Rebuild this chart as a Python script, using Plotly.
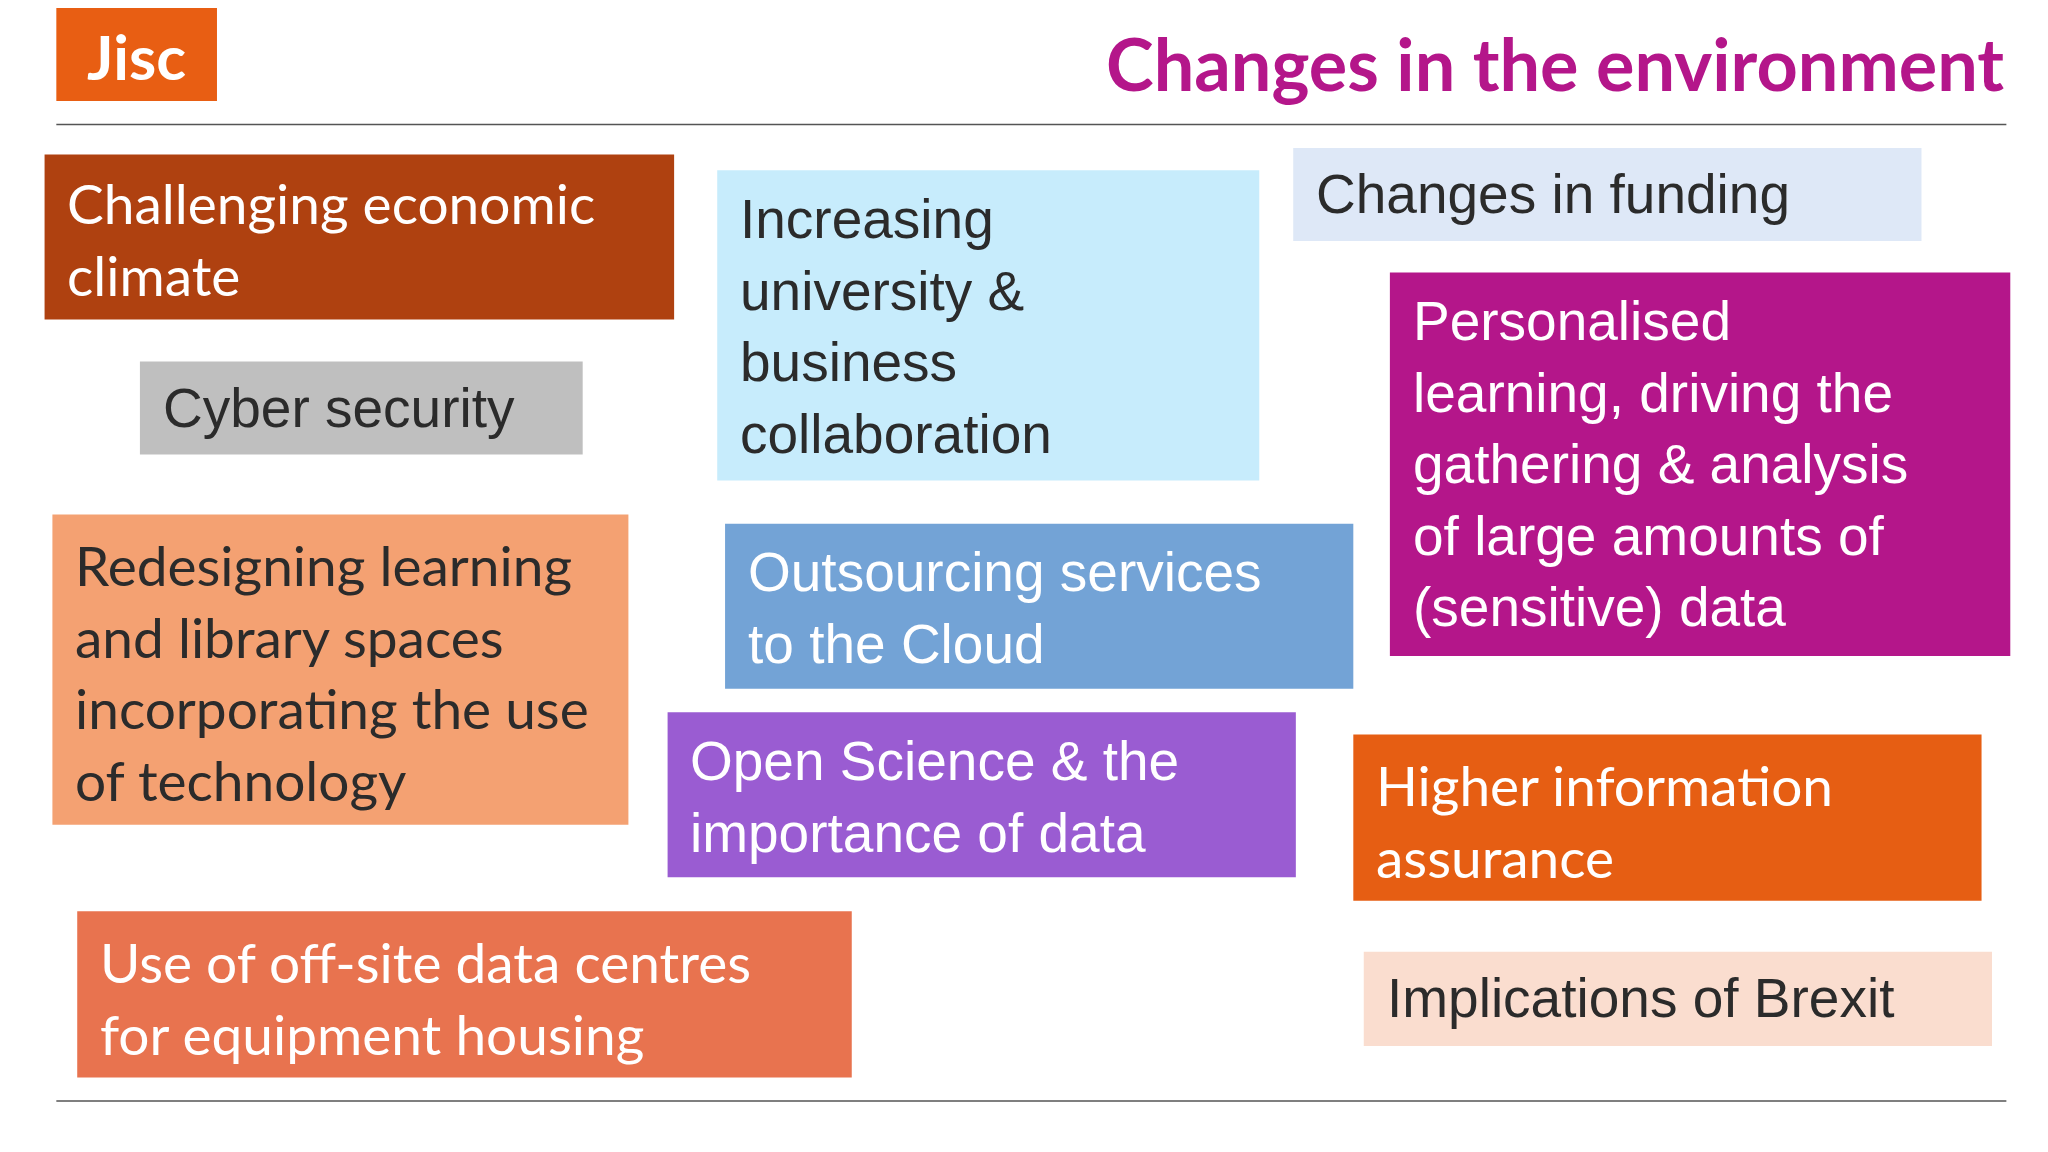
import plotly.graph_objects as go

# slide drawn in a 1568 x 880 coordinate space (reference pixels)
labels = [
    "Challenging economic<br>climate",
    "Cyber security",
    "Redesigning learning<br>and library spaces<br>incorporating the use<br>of technology",
    "Use of off-site data centres<br>for equipment housing",
    "Increasing<br>university &<br>business<br>collaboration",
    "Outsourcing services<br>to the Cloud",
    "Open Science & the<br>importance of data",
    "Changes in funding",
    "Personalised<br>learning, driving the<br>gathering & analysis<br>of large amounts of<br>(sensitive) data",
    "Higher information<br>assurance",
    "Implications of Brexit",
]
box_x0 = [28, 101, 34, 53, 543, 549, 505, 984, 1058, 1030, 1038]
box_x1 = [510, 440, 475, 646, 958, 1030, 986, 1465, 1533, 1511, 1519]
box_y0 = [112, 270, 387, 690, 124, 394, 538, 107, 202, 555, 721]
box_y1 = [238, 341, 624, 817, 361, 520, 664, 178, 495, 682, 793]
fills = ["#AF4110", "#BFBFBF", "#F4A172", "#E8734F", "#C7ECFC", "#73A3D6",
         "#9A5CD2", "#DEE8F7", "#B4168A", "#E65E13", "#FADDCF"]
text_colors = ["white", "#2b2b2b", "#2b2b2b", "white", "#2b2b2b", "white",
               "white", "#2b2b2b", "white", "white", "#2b2b2b"]
fonts = ["Lato", "Liberation Sans", "Lato", "Lato", "Liberation Sans", "Liberation Sans",
         "Liberation Sans", "Liberation Sans", "Liberation Sans", "Lato", "Liberation Sans"]
text_dy = [10, 10, 12, 12, 12, 12, 12, 10, 12, 12, 10]

fig = go.Figure()
shapes = []
annotations = []

for i, lab in enumerate(labels):
    shapes.append(dict(type="rect", xref="x", yref="y",
                       x0=box_x0[i], x1=box_x1[i], y0=box_y0[i], y1=box_y1[i],
                       fillcolor=fills[i], line=dict(width=0), layer="below"))
    annotations.append(dict(x=box_x0[i] + 16, y=box_y0[i] + text_dy[i], xref="x", yref="y",
                            text=lab, showarrow=False, xanchor="left", yanchor="top",
                            align="left",
                            font=dict(family=fonts[i], size=55, color=text_colors[i])))

# header / footer rules
for yy in [89, 835]:
    shapes.append(dict(type="line", xref="x", yref="y", x0=37, x1=1530, y0=yy, y1=yy,
                       line=dict(color="#555555", width=1.5)))

# logo
shapes.append(dict(type="rect", xref="x", yref="y", x0=37, x1=160, y0=0, y1=71,
                   fillcolor="#E85E13", line=dict(width=0)))
annotations.append(dict(x=98, y=37, xref="x", yref="y", text="<b>Jisc</b>", showarrow=False,
                        font=dict(family="Lato", size=62, color="white")))

# title
annotations.append(dict(x=1530, y=42, xref="x", yref="y", text="<b>Changes in the environment</b>",
                        showarrow=False, xanchor="right", yanchor="middle",
                        font=dict(family="Lato", size=72, color="#B4168A")))

fig.update_layout(
    width=2048, height=1152,
    margin=dict(l=0, r=0, t=0, b=0),
    plot_bgcolor="white", paper_bgcolor="white",
    shapes=shapes, annotations=annotations,
    xaxis=dict(range=[0, 1568], visible=False, fixedrange=True),
    yaxis=dict(range=[880, 0], visible=False, fixedrange=True),
    showlegend=False,
)
fig.write_html("out.html")
